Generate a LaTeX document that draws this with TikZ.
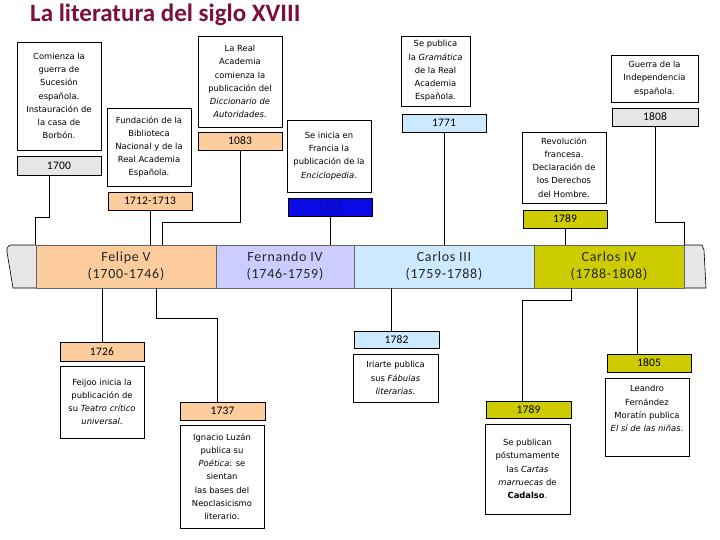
\documentclass[tikz,border=0pt]{standalone}
\usepackage{fontspec}
\setmainfont{DejaVu Sans}
\newfontfamily\calfont{Carlito}
\newfontfamily\barfontfam{Carlito}[LetterSpace=5]
\newfontfamily\datefontfam{Carlito}[LetterSpace=2]
\definecolor{peach}{HTML}{FCCC9C}
\definecolor{lav}{HTML}{CCCCFF}
\definecolor{lblue}{HTML}{CCE9FF}
\definecolor{olive}{HTML}{CCCC00}
\definecolor{lgray}{HTML}{E6E6E6}
\definecolor{dblue}{HTML}{0A0AE6}
\definecolor{navy}{HTML}{0A0A8C}
\definecolor{maroon}{HTML}{7D0F3F}
\begin{document}
\begin{tikzpicture}[x=1pt,y=-1pt,
  txtbox/.style={draw=black, line width=0.8pt, fill=white, align=center, inner sep=0pt, font=\fontsize{8.4}{13.2}\selectfont},
  datebox/.style={draw=black, line width=0.8pt, inner sep=0pt, font=\datefontfam\fontsize{11.5}{12}\selectfont},
  barseg/.style={draw=black!60, line width=0.5pt, align=center, inner sep=0pt, text=black!85, font=\barfontfam\fontsize{14}{17}\selectfont},
  conn/.style={draw=black, line width=0.8pt},
  capshape/.style={fill=lgray, draw=black, line width=0.6pt}]
\useasboundingbox (0,0) rectangle (720,540);
\fill[white] (0,0) rectangle (720,540);

% title
\node[anchor=west, text=maroon, inner sep=0pt, font=\calfont\bfseries\fontsize{25}{28}\selectfont] (title) at (30,15) {La literatura del siglo XVIII};

% timeline bar
\draw[capshape] (36,245) -- (11,245) to[out=180,in=100] (7,252) -- (13,288) -- (36,288);
\draw[capshape] (684,245) -- (702,245) -- (704,250) -- (706,288) -- (684,288);
\node[barseg, fill=peach, minimum width=180pt, minimum height=43pt] (felipe) at (126,266.5) {Felipe V\\(1700-1746)};
\node[barseg, fill=lav, minimum width=138pt, minimum height=43pt] (fernando) at (285,266.5) {Fernando IV\\(1746-1759)};
\node[barseg, fill=lblue, minimum width=180pt, minimum height=43pt] (carlos3) at (444,266.5) {Carlos III\\(1759-1788)};
\node[barseg, fill=olive, minimum width=150pt, minimum height=43pt] (carlos4) at (609,266.5) {Carlos IV\\(1788-1808)};

% upper events
\node[txtbox, minimum width=84pt, minimum height=108pt] (a1) at (59,96) {Comienza la\\guerra de\\Sucesión\\española.\\Instauración de\\la casa de\\Borbón.};
\node[datebox, fill=lgray, minimum width=84pt, minimum height=19pt] (d1700) at (59,165.5) {1700};

\node[txtbox, minimum width=84pt, minimum height=78pt] (a2) at (149,147) {Fundación de la\\Biblioteca\\Nacional y de la\\Real Academia\\Española.};
\node[datebox, fill=peach, minimum width=84pt, minimum height=18pt] (d1712) at (150,201) {1712-1713};

\node[txtbox, minimum width=84pt, minimum height=91pt] (a3) at (240,81.5) {La Real\\Academia\\comienza la\\publicación del\\\textit{Diccionario de}\\\textit{Autoridades}.};
\node[datebox, fill=peach, minimum width=84pt, minimum height=18pt] (d1083) at (240,141) {1083};

\node[txtbox, minimum width=84pt, minimum height=72pt] (a4) at (329,156) {Se inicia en\\Francia la\\publicación de la\\\textit{Enciclopedia}.};
\node[datebox, fill=dblue, text=navy, minimum width=84pt, minimum height=18pt] (d1751) at (330,207) {1751};

\node[txtbox, minimum width=69pt, minimum height=70pt] (a5) at (435.5,71) {Se publica\\la \textit{Gramática}\\de la Real\\Academia\\Española.};
\node[datebox, fill=lblue, minimum width=84pt, minimum height=18pt] (d1771) at (444,123) {1771};

\node[txtbox, minimum width=84pt, minimum height=71pt] (a6) at (564,167.5) {Revolución\\francesa.\\Declaración de\\los Derechos\\del Hombre.};
\node[datebox, fill=olive, minimum width=84pt, minimum height=18pt] (d1789a) at (565,219) {1789};

\node[txtbox, minimum width=87pt, minimum height=47pt] (a7) at (654.5,78.5) {Guerra de la\\Independencia\\española.};
\node[datebox, fill=lgray, minimum width=86pt, minimum height=18pt] (d1808) at (655,117) {1808};

% lower events
\node[datebox, fill=peach, minimum width=84pt, minimum height=19pt] (d1726) at (102,351.5) {1726};
\node[txtbox, minimum width=84pt, minimum height=72pt] (b1) at (102,402) {Feijoo inicia la\\publicación de\\su \textit{Teatro crítico}\\\textit{universal}.};

\node[datebox, fill=peach, minimum width=85pt, minimum height=18pt] (d1737) at (222.5,411) {1737};
\node[txtbox, minimum width=84pt, minimum height=103pt] (b2) at (222,476.5) {Ignacio Luzán\\publica su\\\textit{Poética}: se\\sientan\\las bases del\\Neoclasicismo\\literario.};

\node[datebox, fill=lblue, minimum width=85pt, minimum height=17pt] (d1782) at (396.5,339.5) {1782};
\node[txtbox, minimum width=85pt, minimum height=48pt] (b3) at (395.5,378) {Iriarte publica\\sus \textit{Fábulas}\\\textit{literarias}.};

\node[datebox, fill=olive, minimum width=85pt, minimum height=17pt] (d1789b) at (528.5,409.5) {1789};
\node[txtbox, minimum width=85pt, minimum height=90pt] (b4) at (527.5,469) {Se publican\\póstumamente\\las \textit{Cartas}\\\textit{marruecas} de\\\textbf{Cadalso}.};

\node[datebox, fill=olive, minimum width=84pt, minimum height=18pt] (d1805) at (649,363) {1805};
\node[txtbox, minimum width=84pt, minimum height=78pt] (b5) at (647,417) {Leandro\\Fernández\\Moratín publica\\\textit{El sí de las niñas}.\\\strut};

% connectors (upper)
\coordinate (t1700) at (49,217);
\draw[conn] (t1700 |- d1700.south) -- (t1700) -| (felipe.north west);
\draw[conn] (d1712.south) -- (d1712.south |- felipe.north);
\coordinate (j1083) at (162,245);
\draw[conn] (d1083.south) -- ++(0,72) -| (j1083);
\draw[conn] (d1751.south) -- (d1751.south |- fernando.north);
\draw[conn] (d1771.south) -- (d1771.south |- carlos3.north);
\draw[conn] (d1789a.south) -- (d1789a.south |- carlos4.north);
\draw[conn] (d1808.south) -- ++(0,96) -| (carlos4.north east);

% connectors (lower)
\draw[conn] (d1726.north) -- (d1726.north |- felipe.south);
\coordinate (b1737) at (156,288);
\coordinate (e1737) at (217,318);
\draw[conn] (b1737) |- (e1737) -- (e1737 |- d1737.north);
\coordinate (b1782) at (391,288);
\draw[conn] (b1782) -- (b1782 |- d1782.north);
\coordinate (b1789) at (571,288);
\coordinate (e1789) at (522,300);
\draw[conn] (b1789) |- (e1789) -- (e1789 |- d1789b.north);
\coordinate (b1805) at (637,288);
\draw[conn] (b1805) -- (b1805 |- d1805.north);
\end{tikzpicture}
\end{document}
